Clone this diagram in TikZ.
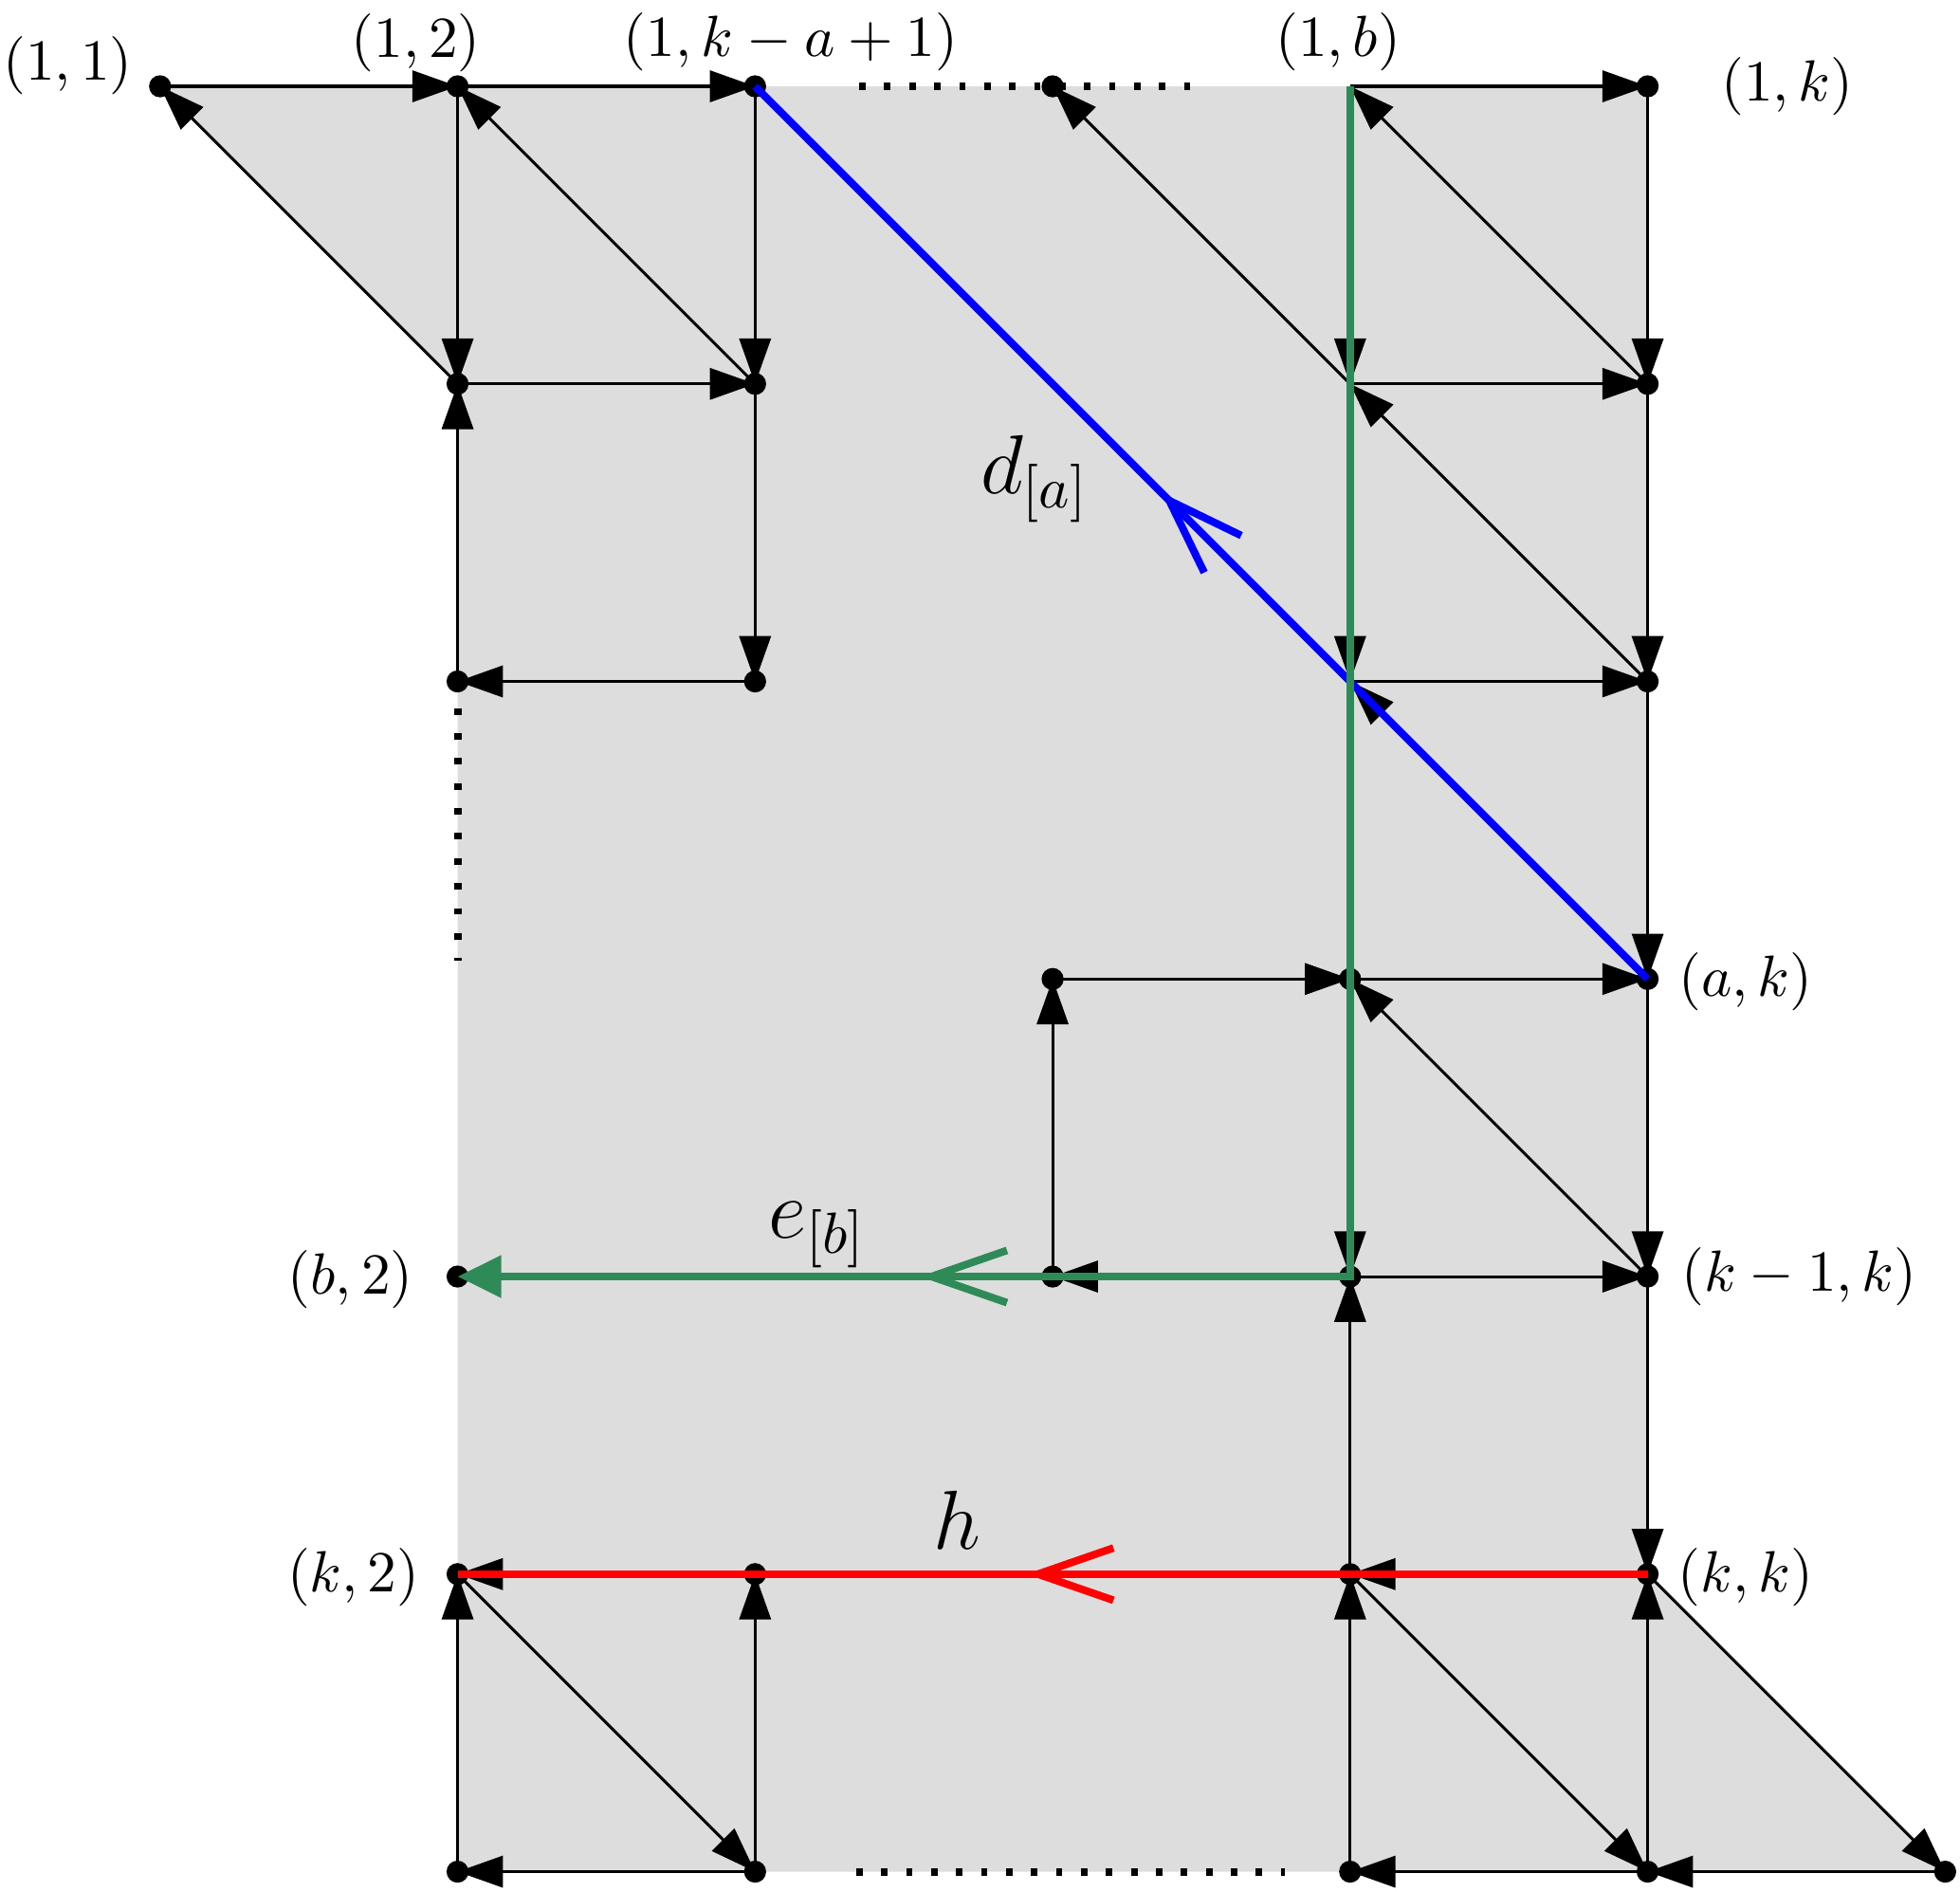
\documentclass[tikz,border=0pt]{standalone}
\usetikzlibrary{arrows.meta,decorations.markings}

\definecolor{regiongray}{RGB}{221,221,221}
\definecolor{pathgreen}{RGB}{46,139,87}

\tikzset{
  arr/.style={-{Triangle[length=7.8pt,width=5.4pt]}, line width=0.5pt},
  dotline/.style={line width=1.3pt, dash pattern=on 1.1pt off 3.2pt},
  bigpath/.style={line width=1.3pt},
  midarrow/.style={postaction={decorate}, decoration={markings,
      mark=at position #1 with {\arrow{Straight Barb[length=13pt,width=9pt]}}}}
}

\begin{document}
\begin{tikzpicture}[x=1.8cm,y=1.8cm]
\useasboundingbox (-0.538,0.290) rectangle (6.050,-6.067);

% grid points (column, row)
\coordinate (n00) at (0,0);  \coordinate (n10) at (1,0);  \coordinate (n20) at (2,0);
\coordinate (n30) at (3,0);  \coordinate (n40) at (4,0);  \coordinate (n50) at (5,0);
\coordinate (n11) at (1,-1); \coordinate (n21) at (2,-1); \coordinate (n41) at (4,-1);
\coordinate (n51) at (5,-1);
\coordinate (n12) at (1,-2); \coordinate (n22) at (2,-2); \coordinate (n42) at (4,-2);
\coordinate (n52) at (5,-2);
\coordinate (n33) at (3,-3); \coordinate (n43) at (4,-3); \coordinate (n53) at (5,-3);
\coordinate (n14) at (1,-4); \coordinate (n34) at (3,-4); \coordinate (n44) at (4,-4);
\coordinate (n54) at (5,-4);
\coordinate (n15) at (1,-5); \coordinate (n25) at (2,-5); \coordinate (n45) at (4,-5);
\coordinate (n55) at (5,-5);
\coordinate (n16) at (1,-6); \coordinate (n26) at (2,-6); \coordinate (n46) at (4,-6);
\coordinate (n56) at (5,-6); \coordinate (n66) at (6,-6);

% shaded region
\fill[regiongray] (n00) -- (n50) -- (n55) -- (n66) -- (n16) -- (n11) -- cycle;

% omitted parts
\draw[dotline] (2.35,0) -- (3.47,0);
\draw[dotline] (1,-2.09) -- (1,-2.94);
\draw[dotline] (2.18,-5) -- (3.79,-5);
\draw[dotline] (2.34,-6) -- (3.78,-6);

% horizontal arrows
\path[arr] (n00) edge (n10) (n10) edge (n20) (n40) edge (n50)
  (n11) edge (n21) (n41) edge (n51) (n22) edge (n12) (n42) edge (n52)
  (n33) edge (n43) (n43) edge (n53) (n44) edge (n34) (n44) edge (n54)
  (n25) edge (n15) (n55) edge (n45)
  (n26) edge (n16) (n56) edge (n46) (n66) edge (n56);

% vertical arrows
\path[arr] (n10) edge (n11) (n20) edge (n21) (n21) edge (n22)
  (n40) edge (n41) (n41) edge (n42) (n43) edge (n44)
  (n50) edge (n51) (n51) edge (n52) (n52) edge (n53) (n53) edge (n54) (n54) edge (n55)
  (n12) edge (n11) (n34) edge (n33) (n45) edge (n44)
  (n16) edge (n15) (n26) edge (n25) (n46) edge (n45) (n56) edge (n55);

% diagonal arrows
\path[arr] (n11) edge (n00) (n21) edge (n10) (n41) edge (n30) (n51) edge (n40)
  (n52) edge (n41) (n53) edge (n42) (n54) edge (n43)
  (n15) edge (n26) (n45) edge (n56) (n55) edge (n66);

% vertices
\foreach \p in {n00,n10,n20,n30,n50,n11,n21,n51,n12,n22,n52,n33,n43,n53,
  n14,n34,n44,n54,n15,n25,n45,n55,n16,n26,n46,n56,n66}
  \fill (\p) circle[radius=1.9pt];

% the three paths
\draw[bigpath, blue, midarrow=0.545] (n53) -- (n20);
\draw[bigpath, pathgreen, midarrow=0.778, -{Triangle[length=7.5pt,width=7pt]}]
  (n40) -- (n44) -- (n14);
\draw[bigpath, red, midarrow=0.522] (n55) -- (n15);

% labels
\node (l11) at (-0.31,0.07) {$(1,1)$};
\node (l12) at (0.86,0.145) {$(1,2)$};
\node (l1ka) at (2.12,0.15) {$(1,k-a+1)$};
\node (l1b) at (3.96,0.15) {$(1,b)$};
\node (l1k) at (5.47,0) {$(1,k)$};
\node (lak) at (5.33,-3.01) {$(a,k)$};
\node (lk1k) at (5.51,-4.0) {$(k-1,k)$};
\node (lkk) at (5.33,-5.01) {$(k,k)$};
\node (lb2) at (0.64,-4.01) {$(b,2)$};
\node (lk2) at (0.65,-5.01) {$(k,2)$};
\node[font=\Large] (ld) at (2.94,-1.32) {$d_{[a]}$};
\node[font=\Large] (le) at (2.21,-3.86) {$e_{[b]}$};
\node[font=\Large] (lh) at (2.68,-4.82) {$h$};

\end{tikzpicture}
\end{document}
